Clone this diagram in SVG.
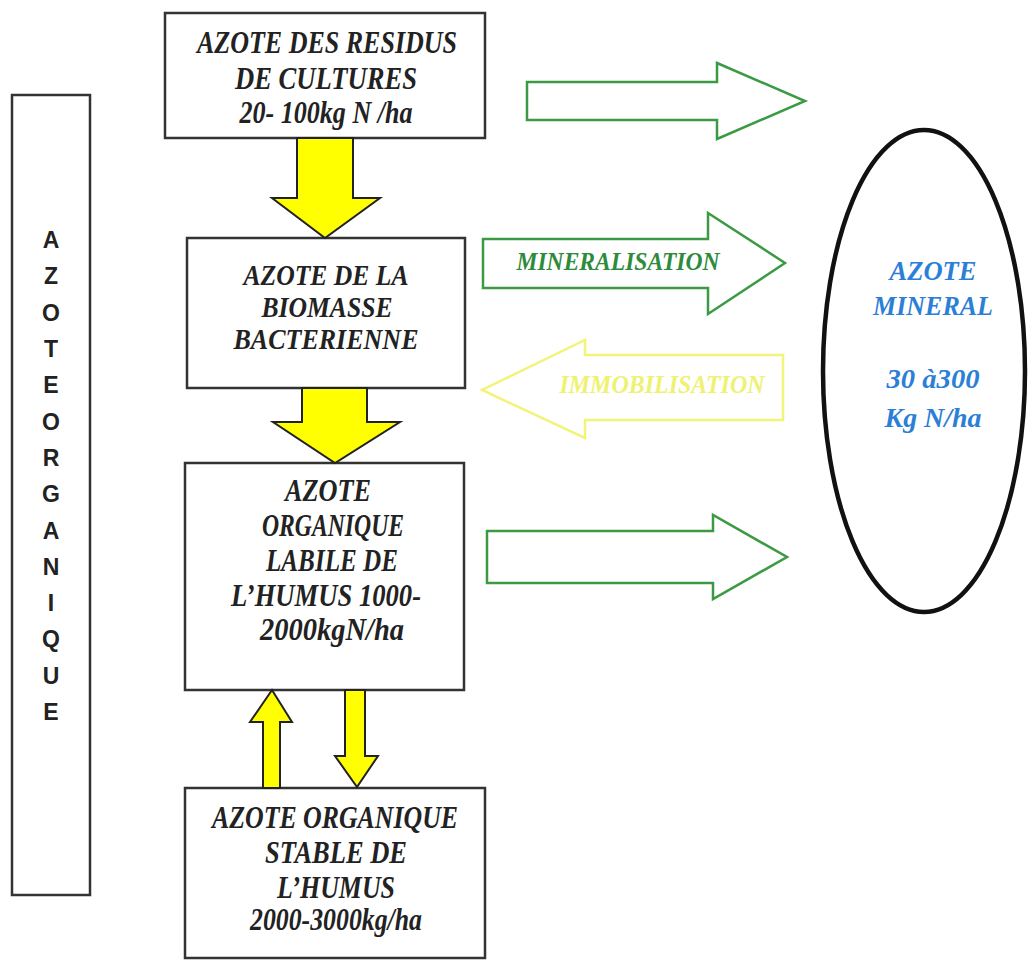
<svg xmlns="http://www.w3.org/2000/svg" width="1029" height="963" viewBox="0 0 1029 963">
<style>
.box{fill:#fff;stroke:#333;stroke-width:2.5}
.t{font-family:"Liberation Serif","Times New Roman",serif;font-weight:bold;font-style:italic;font-size:31px;fill:#222;text-anchor:middle}
.t2{font-size:29px}
.yel{fill:#ffff00;stroke:#222;stroke-width:2;stroke-linejoin:miter}
.grn{fill:#fff;stroke:#3c9a44;stroke-width:2.5}
.pale{fill:#fff;stroke:#f2f47a;stroke-width:2.5}
.vl{font-family:"Liberation Sans",Arial,sans-serif;font-weight:bold;font-size:23px;fill:#222;text-anchor:middle}
.bl{font-family:"Liberation Serif","Times New Roman",serif;font-weight:bold;font-style:italic;font-size:27px;fill:#2b7fd6;text-anchor:middle}
.lbl{font-family:"Liberation Serif","Times New Roman",serif;font-weight:bold;font-style:italic;font-size:26px;text-anchor:middle}
</style>
<rect width="1029" height="963" fill="#fff"/>
<g id="organique">
<rect x="12" y="95" width="78" height="800" class="box" stroke-width="3"/>
<text class="vl" x="51" y="248">A</text>
<text class="vl" x="51" y="284">Z</text>
<text class="vl" x="51" y="321">O</text>
<text class="vl" x="51" y="357">T</text>
<text class="vl" x="51" y="393">E</text>
<text class="vl" x="51" y="430">O</text>
<text class="vl" x="51" y="466">R</text>
<text class="vl" x="51" y="502">G</text>
<text class="vl" x="51" y="539">A</text>
<text class="vl" x="51" y="575">N</text>
<text class="vl" x="51" y="611">I</text>
<text class="vl" x="51" y="647">Q</text>
<text class="vl" x="51" y="684">U</text>
<text class="vl" x="51" y="720">E</text>
</g>
<g id="residus">
<rect x="165" y="13" width="320" height="125" class="box"/>
<text class="t" x="327" y="53" textLength="260" lengthAdjust="spacingAndGlyphs">AZOTE DES RESIDUS</text>
<text class="t" x="326" y="89" textLength="182" lengthAdjust="spacingAndGlyphs">DE CULTURES</text>
<text class="t" x="326" y="123" textLength="173" lengthAdjust="spacingAndGlyphs">20- 100kg N /ha</text>
</g>
<g id="biomasse">
<rect x="187" y="238" width="278" height="150" class="box"/>
<text class="t t2" x="326" y="285" textLength="165" lengthAdjust="spacingAndGlyphs">AZOTE DE LA</text>
<text class="t t2" x="327" y="317" textLength="131" lengthAdjust="spacingAndGlyphs">BIOMASSE</text>
<text class="t t2" x="326" y="349" textLength="185" lengthAdjust="spacingAndGlyphs">BACTERIENNE</text>
</g>
<g id="labile">
<rect x="185" y="463" width="279" height="227" class="box"/>
<text class="t" x="328" y="501" textLength="86" lengthAdjust="spacingAndGlyphs">AZOTE</text>
<text class="t" x="333" y="536" textLength="142" lengthAdjust="spacingAndGlyphs">ORGANIQUE</text>
<text class="t" x="332" y="571" textLength="132" lengthAdjust="spacingAndGlyphs">LABILE DE</text>
<text class="t" x="326" y="606" textLength="190" lengthAdjust="spacingAndGlyphs">L’HUMUS 1000-</text>
<text class="t" x="332" y="640" textLength="144" lengthAdjust="spacingAndGlyphs">2000kgN/ha</text>
</g>
<g id="stable">
<rect x="185" y="788" width="300" height="170" class="box"/>
<text class="t" x="335" y="828" textLength="246" lengthAdjust="spacingAndGlyphs">AZOTE ORGANIQUE</text>
<text class="t" x="336" y="863" textLength="142" lengthAdjust="spacingAndGlyphs">STABLE DE</text>
<text class="t" x="336" y="898" textLength="118" lengthAdjust="spacingAndGlyphs">L’HUMUS</text>
<text class="t" x="336" y="930" textLength="172" lengthAdjust="spacingAndGlyphs">2000-3000kg/ha</text>
</g>
<g id="mineral">
<ellipse cx="924" cy="371" rx="101" ry="241" fill="#fff" stroke="#111" stroke-width="4.5"/>
<text class="bl" x="933" y="280" textLength="87" lengthAdjust="spacingAndGlyphs">AZOTE</text>
<text class="bl" x="933" y="315" textLength="120" lengthAdjust="spacingAndGlyphs">MINERAL</text>
<text class="bl" x="933" y="388" textLength="93" lengthAdjust="spacingAndGlyphs">30 à300</text>
<text class="bl" x="933" y="427" textLength="97" lengthAdjust="spacingAndGlyphs">Kg N/ha</text>
</g>
<g id="connectors">
<polygon class="yel" points="297,138 353,138 353,198 380,198 325,238 272,198 297,198"/>
<polygon class="yel" points="302,388 367,388 367,422 400,422 335,463 273,422 302,422"/>
<polygon class="yel" points="263,788 280,788 280,722 292,722 272,690 250,722 263,722"/>
<polygon class="yel" points="345,690 365,690 365,756 378,756 357,787 335,756 345,756"/>
<polygon class="grn" points="527,82 717,82 717,63 805,101 717,139 717,120 527,120"/>
<polygon class="grn" points="483,239 708,239 708,213 785,263 708,314 708,288 483,288"/>
<text class="lbl" x="618" y="270" fill="#2e8b3c" textLength="203" lengthAdjust="spacingAndGlyphs">MINERALISATION</text>
<polygon class="pale" points="783,355 585,355 585,340 482,390 585,438 585,420 783,420"/>
<text class="lbl" x="662" y="393" fill="#eef270" textLength="205" lengthAdjust="spacingAndGlyphs">IMMOBILISATION</text>
<polygon class="grn" points="487,531 713,531 713,515 787,557 713,599 713,583 487,583"/>
</g>
</svg>
